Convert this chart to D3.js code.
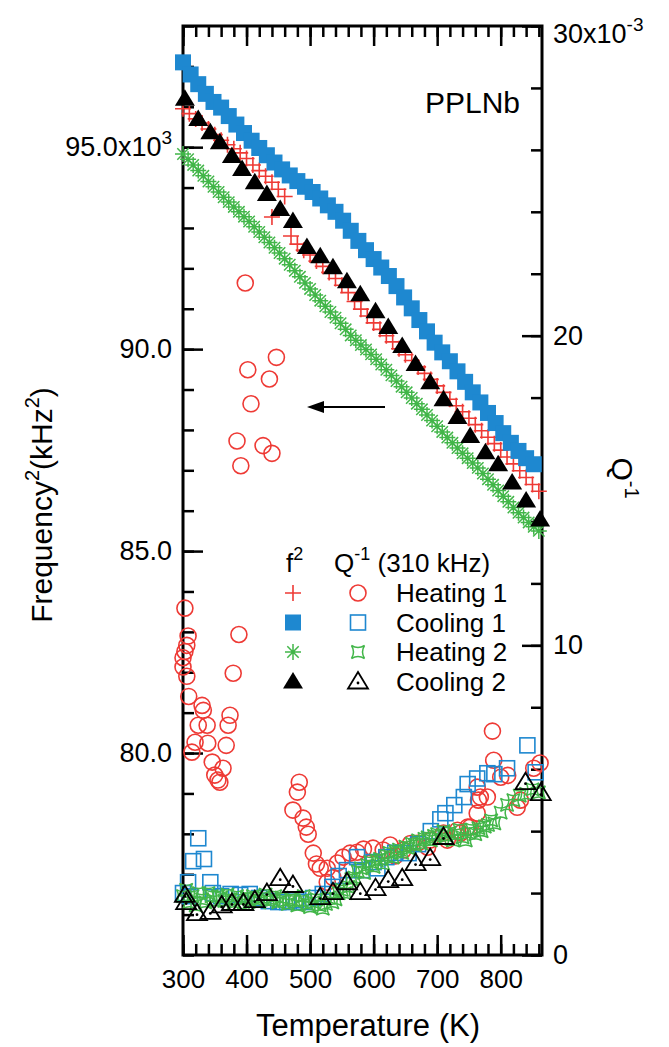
<!DOCTYPE html>
<html>
<head>
<meta charset="utf-8">
<script src="https://cdn.jsdelivr.net/npm/d3@7"></script>
<style>
  body { margin: 0; background: #fff; }
  svg text { font-family: "Liberation Sans", Arial, Helvetica, sans-serif; fill: #000; }
</style>
</head>
<body>
<svg id="chart" width="669" height="1047"></svg>
<script>
// f^2 data, kHz^2  [temperature K, value]
const heat1F = [[300,95950],[310,95830],[320,95700],[330,95600],[340,95450],[350,95310],[360,95170],[370,95060],[380,94960],[390,94860],[400,94720],[410,94560],[420,94420],[430,94280],[440,94130],[440,93270],[450,93960],[460,93780],[470,92800],[480,92600],[490,92450],[500,92330],[510,92180],[520,92050],[530,91900],[540,91750],[550,91580],[560,91400],[570,91180],[580,90990],[590,90820],[600,90650],[610,90490],[620,90330],[630,90180],[640,90010],[650,89860],[660,89720],[670,89560],[680,89400],[690,89250],[700,89090],[710,88930],[720,88760],[730,88600],[740,88450],[750,88290],[760,88130],[770,87980],[780,87820],[790,87660],[800,87500],[810,87330],[820,87160],[830,86990],[840,86820],[850,86650],[860,86480]];
const cool1F = [[300,97100],[312,96800],[324,96560],[336,96320],[348,96120],[360,95980],[372,95770],[384,95560],[396,95350],[408,95160],[420,94980],[432,94800],[444,94620],[456,94450],[468,94300],[480,94160],[492,94020],[504,93890],[516,93730],[528,93560],[540,93400],[552,93180],[564,92930],[576,92680],[588,92450],[600,92230],[612,92020],[624,91810],[636,91560],[648,91280],[660,91010],[672,90720],[684,90440],[696,90160],[708,89920],[720,89700],[732,89450],[744,89190],[756,88930],[768,88680],[780,88420],[792,88170],[804,87920],[816,87680],[828,87480],[840,87300],[852,87150]];
const heat2F = [[300,94830],[308,94700],[316,94560],[324,94420],[332,94290],[340,94150],[348,94020],[356,93890],[364,93760],[372,93640],[380,93520],[388,93400],[396,93280],[404,93160],[412,93030],[420,92900],[428,92770],[436,92640],[444,92510],[452,92380],[460,92240],[468,92090],[476,91940],[484,91790],[492,91640],[500,91490],[508,91340],[516,91200],[524,91060],[532,90920],[540,90780],[548,90640],[556,90490],[564,90340],[572,90220],[580,90100],[588,89990],[596,89870],[604,89750],[612,89620],[620,89490],[628,89350],[636,89210],[644,89070],[652,88930],[660,88790],[668,88650],[676,88510],[684,88370],[692,88230],[700,88090],[708,87950],[716,87810],[724,87680],[732,87550],[740,87420],[748,87300],[756,87180],[764,87060],[772,86920],[780,86780],[788,86640],[796,86500],[804,86360],[812,86220],[820,86080],[828,85950],[836,85830],[844,85710],[852,85600],[860,85500]];
const cool2F = [[303,96200],[324,95700],[343,95370],[358,95120],[377,94780],[393,94460],[413,94130],[432,93840],[453,93470],[473,93170],[495,92530],[516,92300],[536,92030],[558,91680],[579,91360],[603,90940],[623,90550],[645,90080],[666,89630],[689,89180],[710,88760],[732,88320],[752,87850],[776,87450],[796,87150],[818,86700],[840,86250],[862,85780]];

// Q^-1 data, units of 1e-3  [temperature K, value]
const heat1Q = [[303,11.2],[308,10.3],[306,10.0],[303,9.8],[300,9.6],[300,9.3],[306,9.0],[309,8.35],[330,8.06],[332,7.9],[324,7.42],[338,7.42],[319,6.87],[314,6.55],[339,6.84],[346,6.23],[363,6.03],[350,5.81],[355,5.65],[358,5.58],[368,6.77],[371,7.42],[374,7.74],[379,9.1],[388,10.35],
  [398,21.7],[402,18.9],[407,17.8],[385,16.6],[391,15.8],[426,16.45],[440,16.2],[436,18.6],[447,19.3],
  [483,5.58],[480,5.26],[473,4.68],[489,4.42],[494,4.13],[497,3.9],[505,3.29],[510,2.94],[516,2.8],[527,2.35],[527,2.8],[536,2.5],[543,2.97],[552,3.16],[563,3.29],[574,3.32],[584,3.42],[599,3.45],[615,3.39],[626,3.55],[634,3.2],[647,3.39],[658,3.6],[669,3.61],[685,3.48],[689,3.71],[710,3.94],[716,3.71],[732,4.03],[737,3.94],[748,4.13],[752,4.13],[763,4.58],[763,5.42],[765,5.0],[768,5.1],[779,5.1],[789,6.29],[787,7.23],[800,5.74],[811,5.8],[826,4.77],[831,5.0],[852,6.03],[862,6.2]];
const cool1Q = [[300,2.0],[308,2.35],[311,1.9],[316,3.03],[324,3.77],[333,3.1],[343,2.35],[347,2.0],[360,1.9],[375,1.97],[390,1.94],[405,1.97],[420,1.84],[435,1.74],[450,1.71],[464,1.71],[478,1.77],[490,1.71],[505,1.84],[520,1.97],[535,2.2],[545,2.55],[558,2.74],[574,3.16],[582,2.74],[606,2.8],[600,3.0],[620,3.16],[634,3.3],[655,3.29],[670,3.58],[690,4.0],[705,4.38],[713,4.58],[727,4.84],[742,5.1],[748,5.52],[763,5.7],[779,5.87],[790,5.84],[810,6.03],[842,6.77],[855,5.9]];
const heat2Q = [[300,1.9],[305,2.1],[310,1.7],[315,1.9],[320,1.6],[325,2.0],[330,1.8],[335,1.7],[340,2.0],[345,1.9],[350,1.75],[355,1.9],[360,1.85],[365,1.75],[370,1.95],[375,1.8],[380,1.7],[385,1.9],[390,1.8],[395,1.65],[400,1.85],[405,1.75],[410,1.9],[415,1.8],[420,1.7],[425,1.85],[430,1.95],[435,1.75],[440,1.8],[445,1.9],[450,1.7],[455,1.85],[460,1.75],[465,1.65],[470,1.8],[475,1.75],[480,1.6],[485,1.75],[490,1.9],[495,1.65],[500,1.55],[505,1.7],[510,1.8],[515,1.6],[520,1.5],[525,1.65],[530,1.85],[535,1.7],[540,1.8],[545,2.0],[550,2.1],[555,2.0],[560,2.2],[565,2.45],[570,2.5],[575,2.7],[580,2.8],[585,2.65],[590,2.9],[595,3.0],[600,2.85],[605,3.05],[610,3.1],[615,2.95],[620,3.2],[625,3.3],[630,3.15],[635,3.35],[640,3.4],[645,3.3],[650,3.5],[655,3.45],[660,3.6],[665,3.55],[670,3.7],[675,3.6],[680,3.75],[685,3.8],[690,3.7],[695,3.85],[700,3.9],[705,3.75],[710,4.0],[715,3.85],[720,3.95],[725,3.7],[730,3.9],[735,4.05],[740,3.8],[745,3.7],[750,3.95],[755,4.05],[760,3.9],[765,4.1],[770,4.0],[775,4.15],[780,4.2],[785,4.35],[790,4.25],[800,4.6],[810,4.85],[820,5.0],[830,5.15],[840,5.2],[850,5.35],[860,5.25]];
const cool2Q = [[303,1.94],[305,1.71],[322,1.35],[343,1.39],[361,1.6],[377,1.68],[395,1.68],[413,1.77],[432,2.0],[453,2.48],[473,2.26],[516,1.87],[536,2.03],[558,2.35],[579,2.03],[603,2.16],[623,2.42],[645,2.48],[666,2.97],[689,3.13],[710,3.81],[839,5.58],[863,5.23]];

// ticks
const xMajor = [300, 400, 500, 600, 700, 800];
const fMajor = [80000, 85000, 90000, 95000];
const fLabels = {80000: "80.0", 85000: "85.0", 90000: "90.0", 95000: "95.0x10"};
const qMajor = [0, 10, 20, 30];
const qLabels = {0: "0", 10: "10", 20: "20", 30: "30x10"};

const red = "#ee3a35", blue = "#1e88d0", green = "#42b649";

const svg = d3.select("#chart");
const L = 183, R = 542, T = 26, B = 955;

const x = d3.scaleLinear().domain([300, 865]).range([L, R]);
const yF = d3.scaleLinear().domain([75000, 98000]).range([B, T]);
const yQ = d3.scaleLinear().domain([0, 30]).range([B, T]);

// axes
function addAxis(axis, tr, fs) {
  const g = svg.append("g").attr("transform", tr).call(axis);
  g.select(".domain").remove();
  g.selectAll(".tick line").attr("stroke", "#000").attr("stroke-width", 2.5);
  g.selectAll(".tick text").attr("font-size", fs || 26).attr("fill", "#000")
    .style("font-family", '"Liberation Sans", Arial, sans-serif');
  return g;
}
const none = () => "";
addAxis(d3.axisBottom(x).tickValues(d3.range(300, 866, 20)).tickSize(-11).tickFormat(none), `translate(0,${B})`);
addAxis(d3.axisBottom(x).tickValues(xMajor).tickSize(-20).tickPadding(15).tickFormat(d3.format("d")), `translate(0,${B})`, 26);
addAxis(d3.axisTop(x).tickValues(d3.range(300, 866, 20)).tickSize(-11).tickFormat(none), `translate(0,${T})`);
addAxis(d3.axisTop(x).tickValues(xMajor).tickSize(-20).tickFormat(none), `translate(0,${T})`);

addAxis(d3.axisLeft(yF).tickValues(d3.range(75000, 98001, 1000)).tickSize(-11).tickFormat(none), `translate(${L},0)`);
const gl = addAxis(d3.axisLeft(yF).tickValues(fMajor).tickSize(-20).tickPadding(11).tickFormat(d => fLabels[d]), `translate(${L},0)`, 27);
gl.selectAll(".tick text").filter(d => d === 95000)
  .append("tspan").attr("dy", -12).attr("font-size", 19).text("3");

addAxis(d3.axisRight(yQ).tickValues(d3.range(0, 31, 2)).tickSize(-11).tickFormat(none), `translate(${R},0)`);
const gr = addAxis(d3.axisRight(yQ).tickValues(qMajor).tickSize(-20).tickPadding(11).tickFormat(d => qLabels[d]), `translate(${R},0)`, 27);
gr.selectAll(".tick text").filter(d => d === 30).attr("dy", "0.62em")
  .append("tspan").attr("dy", -12).attr("font-size", 19).text("-3");

svg.append("rect").attr("x", L).attr("y", T).attr("width", R - L).attr("height", B - T)
  .attr("fill", "none").attr("stroke", "#000").attr("stroke-width", 3);

// marker shapes
const shapes = {
  plus: g => g.append("path").attr("d", "M-8,0H8M0,-8V8").attr("stroke", red).attr("stroke-width", 1.6).attr("fill", "none"),
  fsquare: g => g.append("rect").attr("x", -8).attr("y", -8).attr("width", 16).attr("height", 16).attr("fill", blue),
  star: g => g.append("path").attr("d", "M-8,0H8M0,-8V8M-5.7,-5.7L5.7,5.7M-5.7,5.7L5.7,-5.7").attr("stroke", green).attr("stroke-width", 1.5).attr("fill", "none"),
  ftri: g => g.append("path").attr("d", "M0,-9.5L10,7H-10Z").attr("fill", "#000"),
  circle: g => g.append("circle").attr("r", 8).attr("fill", "none").attr("stroke", red).attr("stroke-width", 1.6),
  osquare: g => g.append("rect").attr("x", -7.5).attr("y", -7.5).attr("width", 15).attr("height", 15).attr("fill", "none").attr("stroke", blue).attr("stroke-width", 1.6),
  concave: g => g.append("path").attr("d", "M-6.5,-6.5Q0,-2.5 6.5,-6.5Q2.5,0 6.5,6.5Q0,2.5 -6.5,6.5Q-2.5,0 -6.5,-6.5Z").attr("fill", "none").attr("stroke", green).attr("stroke-width", 1.5),
  otri: g => {
    g.append("path").attr("d", "M0,-9.5L10,7H-10Z").attr("fill", "none").attr("stroke", "#000").attr("stroke-width", 1.8);
    g.append("circle").attr("cy", 1.5).attr("r", 1.4).attr("fill", "#000");
  }
};

function drawSeries(data, yScale, kind) {
  svg.append("g").selectAll("g").data(data).join("g")
    .attr("transform", d => `translate(${x(d[0])},${yScale(d[1])})`)
    .each(function () { shapes[kind](d3.select(this)); });
}

drawSeries(heat1Q, yQ, "circle");
drawSeries(cool1Q, yQ, "osquare");
drawSeries(heat2Q, yQ, "concave");
drawSeries(cool2Q, yQ, "otri");
drawSeries(heat1F, yF, "plus");
drawSeries(cool1F, yF, "fsquare");
drawSeries(heat2F, yF, "star");
drawSeries(cool2F, yF, "ftri");

// arrow pointing at the left axis
svg.append("line").attr("x1", 385).attr("y1", 407).attr("x2", 322).attr("y2", 407).attr("stroke", "#000").attr("stroke-width", 2.2);
svg.append("path").attr("d", "M307,407L324,401L324,413Z").attr("fill", "#000");

// sample name
svg.append("text").attr("x", 520).attr("y", 113).attr("text-anchor", "end").attr("font-size", 30).text("PPLNb");

// legend
const legRows = ["Heating 1", "Cooling 1", "Heating 2", "Cooling 2"];
const legF = ["plus", "fsquare", "star", "ftri"];
const legQ = ["circle", "osquare", "concave", "otri"];
const hdr = svg.append("text").attr("x", 286).attr("y", 572).attr("font-size", 26);
hdr.append("tspan").text("f");
hdr.append("tspan").attr("dy", -12).attr("font-size", 18).text("2");
const hdr2 = svg.append("text").attr("x", 334).attr("y", 572).attr("font-size", 26);
hdr2.append("tspan").text("Q");
hdr2.append("tspan").attr("dy", -12).attr("font-size", 18).text("-1");
hdr2.append("tspan").attr("dy", 12).text(" (310 kHz)");
legRows.forEach((name, i) => {
  const cy = 593 + i * 29.5;
  shapes[legF[i]](svg.append("g").attr("transform", `translate(293,${cy})`));
  shapes[legQ[i]](svg.append("g").attr("transform", `translate(358,${cy})`));
  svg.append("text").attr("x", 396).attr("y", cy + 9).attr("font-size", 26).text(name);
});

// axis titles
svg.append("text").attr("x", 368).attr("y", 1036).attr("text-anchor", "middle").attr("font-size", 31).text("Temperature (K)");

const yt = svg.append("text").attr("transform", "translate(52,505) rotate(-90)").attr("text-anchor", "middle").attr("font-size", 30);
yt.append("tspan").text("Frequency");
yt.append("tspan").attr("dy", -13).attr("font-size", 20).text("2");
yt.append("tspan").attr("dy", 13).text("(kHz");
yt.append("tspan").attr("dy", -13).attr("font-size", 20).text("2");
yt.append("tspan").attr("dy", 13).text(")");

const qt = svg.append("text").attr("transform", "translate(612,478) rotate(90)").attr("text-anchor", "middle").attr("font-size", 30);
qt.append("tspan").text("Q");
qt.append("tspan").attr("dy", -13).attr("font-size", 20).text("-1");
</script>
</body>
</html>
